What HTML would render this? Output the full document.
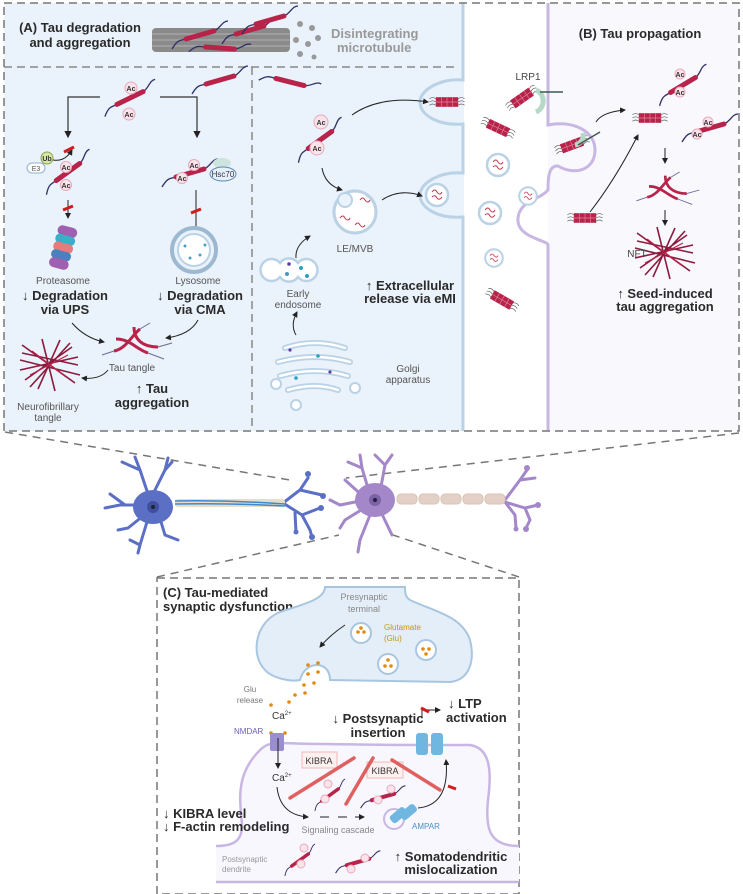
<!DOCTYPE html>
<html><head><meta charset="utf-8"><style>
html,body{margin:0;padding:0;background:#fff}
svg{display:block}
text{font-family:"Liberation Sans",sans-serif}
.b{font-weight:bold;font-size:13px;fill:#2a2a2a}
.s{font-size:10px;fill:#555}
.ac{font-size:7px;font-weight:bold;fill:#333}
</style></head><body>
<svg width="743" height="894" viewBox="0 0 743 894" xmlns="http://www.w3.org/2000/svg">
<defs>
<g id="tau">
<path d="M-28,14 C-22,4 -20,6 -14,4 L14,-4 C20,-6 22,-14 28,-14" fill="none" stroke="#2f2f66" stroke-width="1.3"/>
<path d="M-14,4 L14,-4" stroke="#b8234a" stroke-width="5" stroke-linecap="round"/>
</g>
<g id="fib">
<path d="M-22,-4 q4,-3 8,0 M-22,0 q4,-3 8,0 M-22,4 q4,-3 8,0 M14,-4 q4,-3 8,0 M14,0 q4,-3 8,0 M14,4 q4,-3 8,0" fill="none" stroke="#555" stroke-width="0.8"/>
<rect x="-14" y="-6" width="28" height="12" fill="#b8234a"/>
<path d="M-7,-6v12M0,-6v12M7,-6v12M-14,0h28" stroke="#e0869c" stroke-width="0.8"/>
</g>
<g id="ves">
<circle r="11" fill="#fff" stroke="#b9d2e6" stroke-width="2.5"/>
<path d="M-5,-3 q3,-4 5,0 q3,4 5,0 M-5,2 q3,-3 5,1 q2,3 5,-1" fill="none" stroke="#c0394f" stroke-width="1"/>
</g>
<g id="nft">
<path d="M-28,-20 L25,18 M-30,5 L28,-8 M-20,22 L20,-22 M-8,-26 L5,26 M-30,-5 L30,10 M-25,15 L22,-18 M10,-25 L-12,24 M-28,-12 L28,0" stroke="#8c1c3e" stroke-width="1.6" fill="none"/>
<path d="M-18,-14 L16,12 M-20,10 L18,-10" stroke="#b8234a" stroke-width="1.2"/>
</g>
<g id="tangle">
<path d="M-22,8 C-10,6 -4,-8 4,-14 M-20,-4 C-6,-4 0,6 12,10 M-2,-16 C-2,-4 6,4 22,4" fill="none" stroke="#b8234a" stroke-width="3"/>
<path d="M-34,12 l12,-4 M22,4 l14,-4 M12,10 l16,6 M4,-14 l10,-6" stroke="#6a6a99" stroke-width="1" fill="none"/>
</g>
<marker id="ar" markerWidth="6" markerHeight="6" refX="5" refY="3" orient="auto"><path d="M0,0L6,3L0,6z" fill="#222"/></marker>
</defs>

<rect x="4" y="3" width="460" height="428" fill="#eaf2fb"/>
<rect x="464" y="3" width="84" height="428" fill="#fff"/>
<rect x="548" y="3" width="191" height="428" fill="#f8f8fd"/>
<path d="M463,3 V80 C440,78 420,90 420,102 C420,116 440,126 463,124 V173 C440,171 420,183 420,195 C420,209 440,219 463,217 V431" fill="none" stroke="#b9d2e6" stroke-width="3"/>
<path d="M548,3 V125 C575,120 595,132 595,150 C595,170 575,176 558,166 C548,165 548,180 548,190 C540,200 520,200 518,218 C516,238 548,240 548,245 V431" fill="none" stroke="#c9b7e3" stroke-width="3"/>
<rect x="4" y="3" width="735" height="428" fill="none" stroke="#777" stroke-width="1.5" stroke-dasharray="8,5"/>
<path d="M4,67 H456 M252,67 V431" stroke="#888" stroke-width="1.5" stroke-dasharray="8,5"/>

<text class="b" x="80" y="32" text-anchor="middle" font-size="14">(A) Tau degradation</text>
<text class="b" x="80" y="47" text-anchor="middle" font-size="14">and aggregation</text>
<rect x="152" y="28" width="138" height="24" rx="4" fill="#8a8a8a"/>
<path d="M152,34H290M152,40H290M152,46H290" stroke="#a5a5a5" stroke-width="1.5"/>
<g fill="#999"><circle cx="300" cy="24" r="3"/><circle cx="312" cy="28" r="3"/><circle cx="296" cy="40" r="3"/><circle cx="308" cy="44" r="3"/><circle cx="318" cy="38" r="3"/><circle cx="300" cy="54" r="3"/><circle cx="314" cy="57" r="2.5"/></g>
<use href="#tau" x="200" y="35"/><use href="#tau" x="250" y="30"/><use href="#tau" x="220" y="48" transform="rotate(20 220 48)"/><use href="#tau" x="270" y="20"/>
<text x="331" y="38" font-size="13" font-weight="bold" fill="#999">Disintegrating</text>
<text x="337" y="52" font-size="13" font-weight="bold" fill="#999">microtubule</text>
<use href="#tau" x="220" y="80"/><use href="#tau" x="290" y="82" transform="rotate(30 290 82)"/>

<use href="#tau" x="130" y="98" transform="rotate(-10 130 98)"/>
<circle cx="131" cy="88" r="6" fill="#fbe3ea" stroke="#e8a9bc"/><text class="ac" x="131" y="91" text-anchor="middle">Ac</text>
<circle cx="129" cy="114" r="6" fill="#fbe3ea" stroke="#e8a9bc"/><text class="ac" x="129" y="117" text-anchor="middle">Ac</text>
<path d="M100,97 H68 V137" fill="none" stroke="#333" stroke-width="1.2" marker-end="url(#ar)"/>
<path d="M160,97 H197 V137" fill="none" stroke="#333" stroke-width="1.2" marker-end="url(#ar)"/>
<use href="#tau" x="68" y="172" transform="rotate(-20 68 172)"/>
<circle cx="66" cy="167" r="5.5" fill="#fbe3ea" stroke="#e8a9bc"/><text class="ac" x="66" y="170" text-anchor="middle">Ac</text>
<circle cx="66" cy="185" r="5.5" fill="#fbe3ea" stroke="#e8a9bc"/><text class="ac" x="66" y="188" text-anchor="middle">Ac</text>
<circle cx="47" cy="158" r="6" fill="#d7e8a6" stroke="#8da24c"/><text class="ac" x="47" y="161" text-anchor="middle">Ub</text>
<rect x="27" y="163" width="18" height="10" rx="5" fill="#fff" stroke="#8fb1cf"/><text x="36" y="171" font-size="7" text-anchor="middle" fill="#555">E3</text>
<path d="M53,160 Q65,162 72,150" fill="none" stroke="#222" marker-end="url(#ar)"/>
<path d="M64,152 l10,-5" stroke="#d01c1c" stroke-width="3"/>
<path d="M68,200 V218" stroke="#222" marker-end="url(#ar)"/><path d="M63,210 l10,-4" stroke="#d01c1c" stroke-width="3"/>
<g transform="rotate(15 63 248)"><rect x="53" y="226" width="20" height="10" rx="5" fill="#a05fb0"/><rect x="53" y="235" width="20" height="9" rx="4" fill="#3ab0c8"/><rect x="53" y="243" width="20" height="9" rx="4" fill="#e87b7b"/><rect x="53" y="251" width="20" height="9" rx="4" fill="#4a7fc0"/><rect x="53" y="259" width="20" height="10" rx="5" fill="#a05fb0"/></g>
<use href="#tau" x="190" y="173"/>
<circle cx="194" cy="165" r="5.5" fill="#fbe3ea" stroke="#e8a9bc"/><text class="ac" x="194" y="168" text-anchor="middle">Ac</text>
<circle cx="182" cy="178" r="5.5" fill="#fbe3ea" stroke="#e8a9bc"/><text class="ac" x="182" y="181" text-anchor="middle">Ac</text>
<ellipse cx="222" cy="163" rx="9" ry="5" fill="#cde3dd"/><ellipse cx="223" cy="174" rx="13" ry="7" fill="#e6f0fa" stroke="#5a8ab5"/><text x="223" y="177" font-size="8" text-anchor="middle" fill="#334">Hsc70</text>
<path d="M196,190 V238" stroke="#222" marker-end="url(#ar)"/><path d="M191,213 l10,-4" stroke="#d01c1c" stroke-width="3"/>
<circle cx="194" cy="250" r="22" fill="#eaf2fb" stroke="#9db9d2" stroke-width="4"/>
<circle cx="194" cy="250" r="16" fill="#fff" stroke="#b9d2e6" stroke-width="2"/>
<g fill="#4aa0c0"><circle cx="185" cy="246" r="1.5"/><circle cx="200" cy="255" r="1.5"/><circle cx="190" cy="258" r="1.5"/><circle cx="205" cy="245" r="1.5"/></g>
<text class="s" x="63" y="284" text-anchor="middle">Proteasome</text>
<text class="b" x="65" y="300" text-anchor="middle">↓ Degradation</text>
<text class="b" x="65" y="314" text-anchor="middle">via UPS</text>
<text class="s" x="198" y="284" text-anchor="middle">Lysosome</text>
<text class="b" x="200" y="300" text-anchor="middle">↓ Degradation</text>
<text class="b" x="200" y="314" text-anchor="middle">via CMA</text>
<path d="M72,323 Q85,338 104,342" fill="none" stroke="#222" marker-end="url(#ar)"/>
<path d="M198,320 Q190,335 166,338" fill="none" stroke="#222" marker-end="url(#ar)"/>
<use href="#tangle" x="136" y="343"/>
<text class="s" x="132" y="371" text-anchor="middle">Tau tangle</text>
<path d="M108,370 Q100,380 82,378" fill="none" stroke="#222" marker-end="url(#ar)"/>
<use href="#nft" x="50" y="365"/>
<text class="s" x="48" y="410" text-anchor="middle">Neurofibrillary</text>
<text class="s" x="48" y="421" text-anchor="middle">tangle</text>
<text class="b" x="152" y="393" text-anchor="middle">↑ Tau</text>
<text class="b" x="152" y="407" text-anchor="middle">aggregation</text>

<use href="#tau" x="320" y="140" transform="rotate(-20 320 140)"/>
<circle cx="321" cy="122" r="7" fill="#fbe3ea" stroke="#e8a9bc"/><text class="ac" x="321" y="125" text-anchor="middle" font-size="8">Ac</text>
<circle cx="317" cy="148" r="7" fill="#fbe3ea" stroke="#e8a9bc"/><text class="ac" x="317" y="151" text-anchor="middle" font-size="8">Ac</text>
<path d="M352,115 Q380,95 428,102" fill="none" stroke="#222" marker-end="url(#ar)"/>
<use href="#fib" transform="translate(447,102) scale(0.8)"/>
<path d="M322,168 Q325,185 342,190" fill="none" stroke="#222" marker-end="url(#ar)"/>
<circle cx="355" cy="212" r="21" fill="#fff" stroke="#b9d2e6" stroke-width="3"/>
<circle cx="345" cy="200" r="7" fill="#eaf2fb" stroke="#b9d2e6" stroke-width="2"/>
<path d="M360,200q3,-4 5,0q3,4 5,0M340,218q3,-4 5,0q3,4 5,0M355,225q3,-4 5,0q3,4 5,0" fill="none" stroke="#c0394f"/>
<path d="M382,200 Q400,188 422,196" fill="none" stroke="#222" marker-end="url(#ar)"/>
<use href="#ves" x="437" y="195"/>
<text class="s" x="355" y="252" text-anchor="middle">LE/MVB</text>
<path d="M296,258 Q295,245 310,236" fill="none" stroke="#222" marker-end="url(#ar)"/>
<path d="M280,263 a11,11 0 0 1 18,0 a11,11 0 1 1 0,14 a11,11 0 0 1 -18,0 a11,11 0 1 1 0,-14z" fill="#fff" stroke="#b9d2e6" stroke-width="2.5"/>
<g><circle cx="289" cy="264" r="1.8" fill="#5a3fa0"/><circle cx="301" cy="268" r="2" fill="#2aa0c0"/><circle cx="287" cy="274" r="2" fill="#49c"/><circle cx="307" cy="276" r="2" fill="#2aa0c0"/></g>
<text class="s" x="298" y="297" text-anchor="middle">Early</text>
<text class="s" x="298" y="308" text-anchor="middle">endosome</text>
<path d="M296,335 Q290,325 297,312" fill="none" stroke="#222" marker-end="url(#ar)"/>
<g fill="none" stroke="#b9d2e6" stroke-width="6" stroke-linecap="round">
<path d="M285,348 Q315,338 345,348"/><path d="M278,362 Q315,352 350,362"/><path d="M280,376 Q315,366 348,376"/><path d="M288,390 Q315,382 338,390"/></g>
<g fill="none" stroke="#fff" stroke-width="2.5" stroke-linecap="round">
<path d="M285,348 Q315,338 345,348"/><path d="M278,362 Q315,352 350,362"/><path d="M280,376 Q315,366 348,376"/><path d="M288,390 Q315,382 338,390"/></g>
<g><circle cx="290" cy="350" r="1.6" fill="#5a3fa0"/><circle cx="318" cy="356" r="1.8" fill="#2aa0c0"/><circle cx="330" cy="372" r="1.6" fill="#5a3fa0"/><circle cx="296" cy="378" r="1.8" fill="#2aa0c0"/></g>
<circle cx="276" cy="384" r="5" fill="#fff" stroke="#b9d2e6" stroke-width="2"/><circle cx="296" cy="405" r="5" fill="#fff" stroke="#b9d2e6" stroke-width="2"/><circle cx="355" cy="388" r="5" fill="#fff" stroke="#b9d2e6" stroke-width="2"/>
<text class="b" x="410" y="290" text-anchor="middle">↑ Extracellular</text>
<text class="b" x="410" y="303" text-anchor="middle">release via eMI</text>
<text class="s" x="408" y="372" text-anchor="middle">Golgi</text>
<text class="s" x="408" y="383" text-anchor="middle">apparatus</text>

<use href="#fib" transform="translate(522,98) rotate(-35) scale(0.8)"/>
<path d="M536,90 a12,12 0 0 1 0,22" fill="none" stroke="#b5d8c8" stroke-width="5"/>
<path d="M540,92 H563" stroke="#3a5a50" stroke-width="1.5"/>
<text x="528" y="80" font-size="10" fill="#444" text-anchor="middle">LRP1</text>
<use href="#fib" transform="translate(498,128) rotate(25) scale(0.8)"/>
<use href="#ves" x="498" y="165"/>
<use href="#ves" transform="translate(528,196) scale(0.8)"/>
<use href="#ves" x="490" y="213"/>
<use href="#ves" transform="translate(494,258) scale(0.8)"/>
<use href="#fib" transform="translate(502,300) rotate(30) scale(0.8)"/>
<use href="#fib" transform="translate(572,145) rotate(-20) scale(0.8)"/>
<path d="M575,145 a10,10 0 0 0 8,-12" fill="none" stroke="#b5d8c8" stroke-width="5"/>
<path d="M578,145 L600,132" stroke="#3a5a50" stroke-width="1.5"/>
<use href="#fib" transform="translate(585,218) scale(0.8)"/>
<path d="M590,212 Q615,180 638,135" fill="none" stroke="#222" marker-end="url(#ar)"/>
<path d="M596,122 Q602,112 625,110" fill="none" stroke="#222" marker-end="url(#ar)"/>

<text class="b" x="640" y="38" text-anchor="middle" font-size="14">(B) Tau propagation</text>
<use href="#tau" x="683" y="85" transform="rotate(-15 683 85)"/>
<circle cx="680" cy="74" r="5" fill="#fbe3ea" stroke="#e8a9bc"/><text class="ac" x="680" y="77" text-anchor="middle" font-size="6">Ac</text>
<circle cx="680" cy="92" r="5" fill="#fbe3ea" stroke="#e8a9bc"/><text class="ac" x="680" y="95" text-anchor="middle" font-size="6">Ac</text>
<use href="#fib" transform="translate(650,118) scale(0.8)"/>
<use href="#tau" x="710" y="128"/>
<circle cx="708" cy="122" r="5" fill="#fbe3ea" stroke="#e8a9bc"/><text class="ac" x="708" y="125" text-anchor="middle" font-size="6">Ac</text>
<circle cx="697" cy="134" r="5" fill="#fbe3ea" stroke="#e8a9bc"/><text class="ac" x="697" y="137" text-anchor="middle" font-size="6">Ac</text>
<path d="M665,148 V163" stroke="#222" marker-end="url(#ar)"/>
<use href="#tangle" transform="translate(667,190) scale(0.9)"/>
<path d="M665,210 V225" stroke="#222" marker-end="url(#ar)"/>
<use href="#nft" x="665" y="253"/>
<text x="637" y="257" font-size="10" fill="#444" text-anchor="middle">NFT</text>
<text class="b" x="665" y="298" text-anchor="middle">↑ Seed-induced</text>
<text class="b" x="665" y="311" text-anchor="middle">tau aggregation</text>

<path d="M5,432 L290,480 M739,433 L346,478 M157,577 L339,535 M519,577 L393,535" stroke="#777" stroke-width="1.5" stroke-dasharray="8,6" fill="none"/>

<g stroke="#5b6fc4" stroke-width="3" fill="none" stroke-linecap="round">
<path d="M150,500 L140,470 L135,457 M140,470 L122,462 M150,500 L165,470 L172,462 M160,505 L120,505 L105,508 M125,505 L110,494 M148,512 L128,528 L118,530 M150,512 L140,545 L138,553 M158,512 L165,535 L178,540 M140,545 L130,540 M165,470 L168,458"/>
<path d="M283,503 L300,490 L308,478 M300,490 L322,495 M283,503 L302,515 L320,508 M302,515 L310,530 L312,537 M295,513 L296,532"/>
</g>
<g fill="#5b6fc4"><circle cx="308" cy="474" r="3"/><circle cx="323" cy="496" r="3"/><circle cx="321" cy="508" r="3"/><circle cx="312" cy="537" r="3"/><circle cx="296" cy="532" r="2.5"/></g>
<ellipse cx="153" cy="507" rx="20" ry="17" fill="#5b6fc4"/>
<circle cx="153" cy="507" r="6" fill="#3e4f9e"/><circle cx="153" cy="507" r="2" fill="#223"/>
<rect x="175" y="499" width="110" height="8" rx="3" fill="#e8dcc8"/>
<path d="M175,501 Q230,500 285,504 M175,504 Q230,503 285,506" stroke="#3a8ad0" stroke-width="1.5" fill="none"/>

<g stroke="#a487c9" stroke-width="3" fill="none" stroke-linecap="round">
<path d="M370,495 L362,468 L360,455 M362,468 L348,462 M380,492 L385,465 L392,455 M372,510 L360,540 L358,552 M380,510 L392,535 M365,500 L340,505 L330,500 M365,498 L345,480 M366,507 L345,520 L340,528 M385,465 L375,455"/>
<path d="M505,500 L520,480 L527,470 M520,480 L535,478 M505,502 L525,508 L538,505 M525,508 L530,520 L526,528 M505,502 L515,515 L516,528"/>
</g>
<g fill="#a487c9"><circle cx="527" cy="468" r="3"/><circle cx="538" cy="505" r="3"/><circle cx="526" cy="529" r="3"/><circle cx="516" cy="529" r="2.5"/></g>
<ellipse cx="375" cy="500" rx="20" ry="17" fill="#a487c9"/>
<circle cx="375" cy="500" r="6" fill="#7c63a8"/><circle cx="375" cy="500" r="2" fill="#223"/>
<g fill="#e3d1c7" stroke="#d8c2b4"><rect x="397" y="494" width="20" height="10" rx="4"/><rect x="419" y="494" width="20" height="10" rx="4"/><rect x="441" y="494" width="20" height="10" rx="4"/><rect x="463" y="494" width="20" height="10" rx="4"/><rect x="485" y="494" width="20" height="10" rx="4"/></g>

<rect x="157" y="578" width="362" height="316" fill="none" stroke="#777" stroke-width="1.5" stroke-dasharray="8,5"/>
<text class="b" x="163" y="597" font-size="14">(C) Tau-mediated</text>
<text class="b" x="163" y="611" font-size="14">synaptic dysfunction</text>
<path d="M325,587 C325,600 300,605 280,612 C255,622 250,655 265,670 C272,678 290,682 300,680 C305,660 330,660 330,680 L450,682 C470,680 475,660 470,640 C462,615 430,610 410,600 C405,597 405,592 405,587 Z" fill="#e3eef8" stroke="#a9c6e0" stroke-width="2"/>
<text x="364" y="600" font-size="9" fill="#888" text-anchor="middle">Presynaptic</text>
<text x="364" y="612" font-size="9" fill="#888" text-anchor="middle">terminal</text>
<g fill="#fff" stroke="#a9c6e0" stroke-width="2"><circle cx="361" cy="633" r="10"/><circle cx="388" cy="664" r="10"/><circle cx="426" cy="650" r="10"/></g>
<g fill="#e08a10"><circle cx="358" cy="632" r="1.8"/><circle cx="364" cy="632" r="1.8"/><circle cx="361" cy="628" r="1.8"/><circle cx="385" cy="666" r="1.8"/><circle cx="391" cy="666" r="1.8"/><circle cx="388" cy="660" r="1.8"/><circle cx="423" cy="649" r="1.8"/><circle cx="429" cy="649" r="1.8"/><circle cx="426" cy="654" r="1.8"/>
<circle cx="308" cy="665" r="1.8"/><circle cx="318" cy="663" r="1.8"/><circle cx="308" cy="674" r="1.8"/><circle cx="318" cy="672" r="1.8"/><circle cx="304" cy="685" r="1.8"/><circle cx="314" cy="683" r="1.8"/><circle cx="295" cy="695" r="1.8"/><circle cx="305" cy="693" r="1.8"/><circle cx="289" cy="702" r="1.8"/><circle cx="271" cy="705" r="1.8"/><circle cx="271" cy="733" r="1.8"/><circle cx="285" cy="733" r="1.8"/></g>
<text x="384" y="630" font-size="8" fill="#d0900a">Glutamate</text>
<text x="384" y="641" font-size="8" fill="#d0900a">(Glu)</text>
<path d="M345,625 Q330,635 320,647" fill="none" stroke="#222" marker-end="url(#ar)"/>
<text x="250" y="692" font-size="8" fill="#777" text-anchor="middle">Glu</text>
<text x="250" y="703" font-size="8" fill="#777" text-anchor="middle">release</text>
<text x="272" y="719" font-size="10" fill="#333">Ca<tspan font-size="6" dy="-4">2+</tspan></text>
<text x="234" y="734" font-size="8" fill="#6a60b0">NMDAR</text>
<path d="M216,846 C235,846 242,840 242,825 C240,800 235,775 260,750 C265,745 270,743 280,743 C340,745 420,745 470,745 C490,748 492,770 488,800 C485,830 490,846 519,846 L519,882 L216,882 Z" fill="#f7f7fd" stroke="none"/>
<path d="M216,846 C235,846 242,840 242,825 C240,800 235,775 260,750 C265,745 270,743 280,743 C340,745 420,745 470,745 C490,748 492,770 488,800 C485,830 490,846 519,846" fill="none" stroke="#c9b7e3" stroke-width="2.5"/>
<path d="M216,882 H519" stroke="#c9b7e3" stroke-width="2.5"/>
<rect x="270" y="733" width="14" height="18" rx="2" fill="#9a8ed0"/>
<g fill="#6fb6e0"><rect x="416" y="733" width="12" height="22" rx="3"/><rect x="431" y="733" width="12" height="22" rx="3"/></g>
<path d="M278,738 V768" stroke="#222" marker-end="url(#ar)"/>
<text x="272" y="781" font-size="10" fill="#333">Ca<tspan font-size="6" dy="-4">2+</tspan></text>
<rect x="302" y="752" width="35" height="16" fill="#fdf0f0" stroke="#f0b8b8"/><text x="319" y="764" font-size="9" text-anchor="middle" fill="#333">KIBRA</text>
<rect x="367" y="762" width="36" height="16" fill="#fdf0f0" stroke="#f0b8b8"/><text x="385" y="774" font-size="9" text-anchor="middle" fill="#333">KIBRA</text>
<g stroke="#e06060" stroke-width="3.5" stroke-linecap="round"><path d="M290,798 L354,758"/><path d="M346,804 L373,758"/><path d="M392,760 L440,790"/></g>
<use href="#tau" transform="translate(330,795) scale(0.7) rotate(-20)"/>
<use href="#tau" transform="translate(383,797) scale(0.8)"/>
<use href="#tau" transform="translate(300,860) scale(0.7) rotate(-20)"/>
<use href="#tau" transform="translate(358,862) scale(0.8)"/>
<g fill="#fbe3ea" stroke="#e8a9bc"><circle cx="328" cy="784" r="4"/><circle cx="325" cy="799" r="4"/><circle cx="391" cy="789" r="4"/><circle cx="378" cy="800" r="4"/><circle cx="304" cy="848" r="4"/><circle cx="301" cy="864" r="4"/><circle cx="365" cy="858" r="4"/><circle cx="351" cy="869" r="4"/></g>
<path d="M277,787 Q280,815 308,817" fill="none" stroke="#222" marker-end="url(#ar)"/>
<path d="M320,817h9M338,817h9M355,817h9" stroke="#222" marker-end="url(#ar)"/>
<text x="338" y="833" font-size="9" fill="#888" text-anchor="middle">Signaling cascade</text>
<circle cx="394" cy="819" r="10" fill="none" stroke="#c9b7e3" stroke-width="2"/>
<rect x="393" y="808" width="9" height="18" rx="3" fill="#6fb6e0" transform="rotate(50 400 817)"/><rect x="403" y="805" width="9" height="18" rx="3" fill="#6fb6e0" transform="rotate(50 410 814)"/>
<text x="412" y="829" font-size="8" fill="#4a90c0">AMPAR</text>
<path d="M418,808 Q450,805 446,760" fill="none" stroke="#222" marker-end="url(#ar)"/>
<path d="M448,786 l8,3" stroke="#d01c1c" stroke-width="3"/>
<path d="M422,718 V710 H440" fill="none" stroke="#222" marker-end="url(#ar)"/>
<path d="M421,708 l8,4" stroke="#d01c1c" stroke-width="3"/>
<text class="b" x="378" y="723" text-anchor="middle" font-size="12">↓ Postsynaptic</text>
<text class="b" x="378" y="737" text-anchor="middle" font-size="12">insertion</text>
<text class="b" x="448" y="708" font-size="12">↓ LTP</text>
<text class="b" x="446" y="722" font-size="12">activation</text>
<text class="b" x="163" y="818" font-size="12">↓ KIBRA level</text>
<text class="b" x="163" y="831" font-size="12">↓ F-actin remodeling</text>
<text class="b" x="451" y="861" text-anchor="middle" font-size="12">↑ Somatodendritic</text>
<text class="b" x="451" y="874" text-anchor="middle" font-size="12">mislocalization</text>
<text x="222" y="862" font-size="8" fill="#999">Postsynaptic</text>
<text x="222" y="872" font-size="8" fill="#999">dendrite</text>
</svg>
</body></html>
